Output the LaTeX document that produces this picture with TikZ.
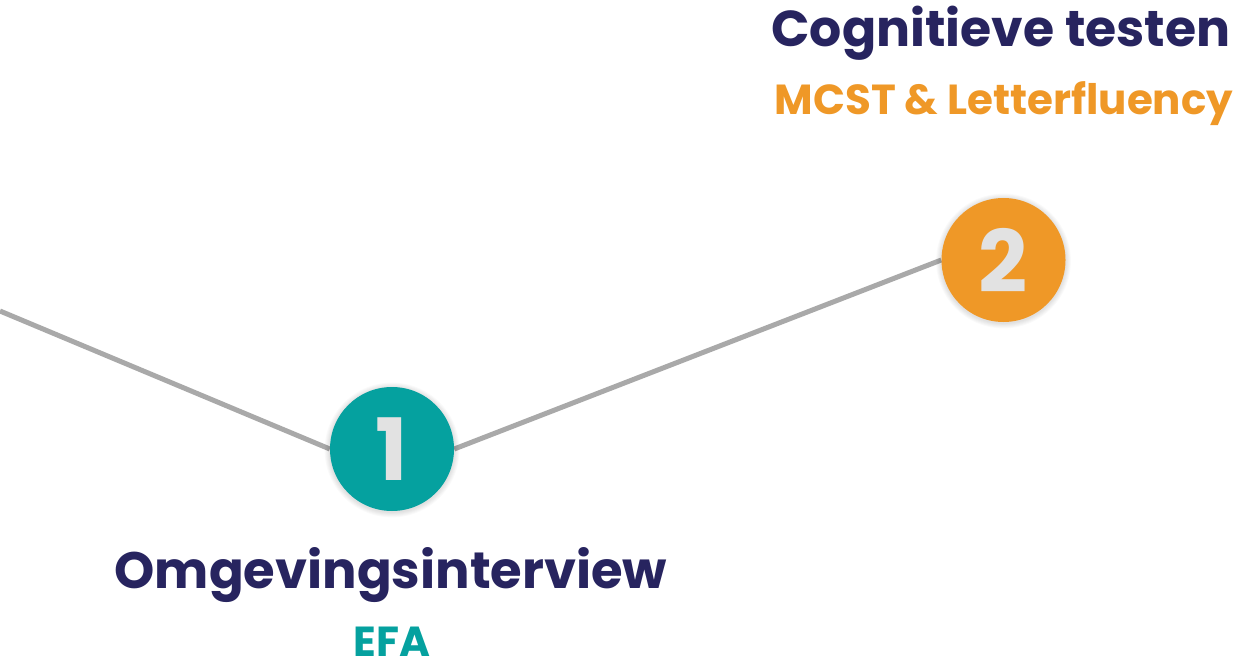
\documentclass[tikz,border=0pt]{standalone}
\usepackage{fontspec}
\setmainfont{Poppins}
\usetikzlibrary{backgrounds}
\definecolor{navy}{HTML}{27245F}
\definecolor{tealc}{HTML}{05A19F}
\definecolor{orangec}{HTML}{EF9827}
\definecolor{numgray}{HTML}{E2E2E2}
\definecolor{linegray}{HTML}{A9A9A9}
\begin{document}
\begin{tikzpicture}[x=1pt,y=-1pt,
  stepdot/.style={circle, minimum size=124pt, inner sep=0pt, text=numgray,
    font=\fontsize{86}{86}\selectfont\bfseries},
  link/.style={draw=linegray, line width=5pt},
  headline/.style={anchor=base, text=navy, inner sep=0pt,
    font=\fontsize{50.5}{50.5}\selectfont\bfseries},
  subline/.style={anchor=base, inner sep=0pt,
    font=\fontsize{42}{42}\selectfont\bfseries}]
\useasboundingbox (0,0) rectangle (1244,666);

% soft halo behind each step marker
\foreach \cx/\cy in {392/449, 1003.5/260}{
  \foreach \r in {1,...,6}{
    \fill[black, opacity=0.018] (\cx,\cy+1) circle (62+\r*0.9);
  }
}

\node[stepdot, fill=tealc] (s1) at (392,449) {1};
\node[stepdot, fill=orangec] (s2) at (1003.5,260) {2};
\coordinate (start) at (0,311);

\begin{pgfonlayer}{background}
  \draw[link] (start) -- (s1.west);
  \draw[link] (s1.east) -- (s2.west);
\end{pgfonlayer}

\node[headline] (t2) at (1001,47) {Cognitieve testen};
\node[subline, text=orangec] (u2) at (1004,114) {MCST \& Letterfluency};
\node[headline, font=\fontsize{51.2}{51.2}\selectfont\bfseries] (t1) at (391,588) {Omgevingsinterview};
\node[subline, text=tealc] (u1) at (392,656) {EFA};
\end{tikzpicture}
\end{document}
